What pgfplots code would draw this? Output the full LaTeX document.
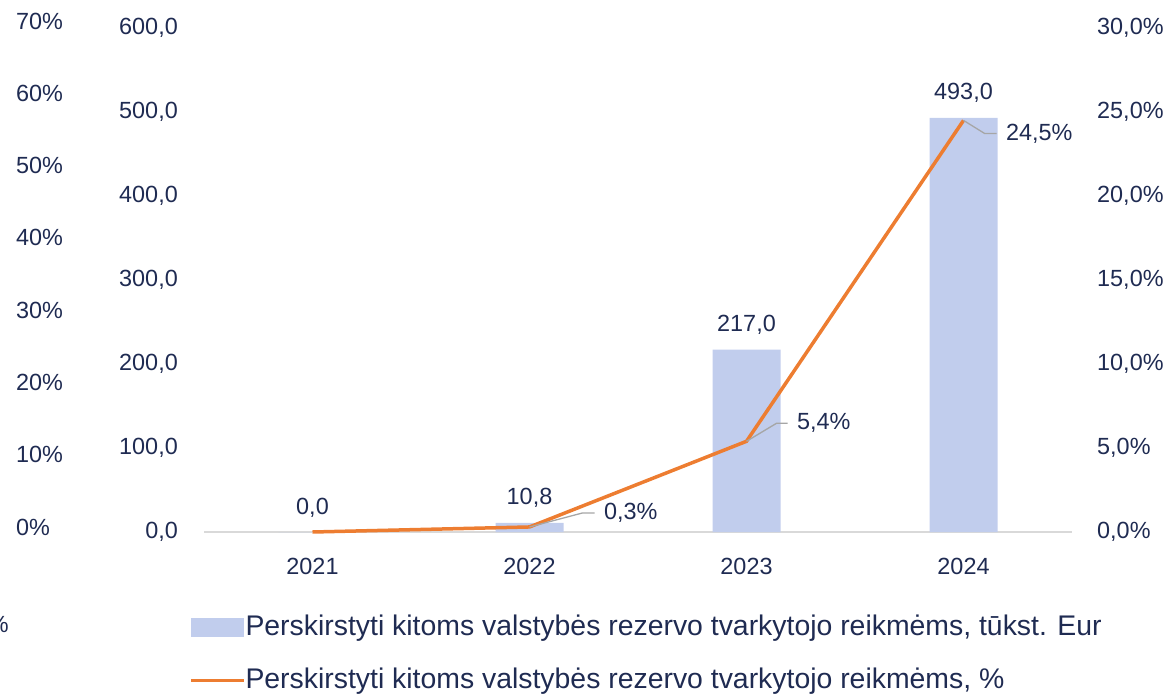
\documentclass[border=0pt]{standalone}
\usepackage{pgfplots}
\pgfplotsset{compat=1.18}
\usepackage{fontspec}
\setmainfont{Liberation Sans}
\definecolor{txt}{HTML}{1F2B52}
\definecolor{barc}{HTML}{C1CDED}
\definecolor{org}{HTML}{ED7D31}
\definecolor{lead}{HTML}{A6A6A6}
\definecolor{axc}{HTML}{D9D9D9}
\newcommand{\tf}{\fontsize{23.5}{28}\selectfont}
\newcommand{\lf}{\fontsize{28.5}{33}\selectfont}
\pgfplotsset{
  base/.style={scale only axis, width=868bp, height=504bp, xmin=-0.5, xmax=3.5,
    /pgf/number format/assume math mode=true,
    ticklabel style={font=\tf, text=txt, inner sep=0pt},
    tick style={draw=none}, clip=false, separate axis lines,
    axis line style={draw=none}},
}
\begin{document}
\begin{tikzpicture}
\useasboundingbox (0,0) rectangle (1168bp,-694bp);
% stray percentage scale on the far left
\begin{axis}[base, at={(204bp,-527bp)}, anchor=south west, height=506bp,
  ymin=0, ymax=70, ytick={0,10,20,30,40,50,60,70},
  yticklabels={0\%,10\%,20\%,30\%,40\%,50\%,60\%,70\%},
  yticklabel style={anchor=west, xshift=-188bp},
  xtick=\empty]
\end{axis}
% bars
\begin{axis}[base, at={(204bp,-532bp)}, anchor=south west,
  ymin=0, ymax=600, ytick={0,100,200,300,400,500,600},
  yticklabels={{0,0},{100,0},{200,0},{300,0},{400,0},{500,0},{600,0}},
  yticklabel style={anchor=east, xshift=-26bp},
  xtick={0,1,2,3}, xticklabels={2021,2022,2023,2024},
  xticklabel style={anchor=north, yshift=-26bp},
  axis x line*=bottom, axis y line*=left,
  x axis line style={draw=axc, line width=1.5bp},
  y axis line style={draw=none}]
\addplot[ybar, bar width=68bp, fill=barc, draw=none,
  nodes near coords={\pgfmathprintnumber[fixed, fixed zerofill, precision=1, use comma]{\pgfplotspointmeta}},
  every node near coord/.append style={font=\tf, text=txt, anchor=base, inner sep=0pt, yshift=18bp}]
  coordinates {(0,0) (1,10.8) (2,217) (3,493)};
\end{axis}
% line
\begin{axis}[base, at={(204bp,-532bp)}, anchor=south west,
  ymin=0, ymax=30, ytick={0,5,10,15,20,25,30},
  yticklabels={{0,0\%},{5,0\%},{10,0\%},{15,0\%},{20,0\%},{25,0\%},{30,0\%}},
  yticklabel pos=right,
  yticklabel style={anchor=west, xshift=25bp},
  xtick=\empty,
  legend style={draw=none, fill=none, inner sep=0pt, outer sep=0pt,
    at={(-15bp,-82bp)}, anchor=north west, font=\lf, text=txt,
    nodes={inner sep=0pt, text depth=6bp, text height=21bp},
    row sep=26bp, /tikz/every even column/.style={column sep=6bp}},
  legend cell align=left]
\addlegendimage{legend image code/.code={\fill[barc] (0bp,-9bp) rectangle (52bp,9bp);}}
\addlegendentry{Perskirstyti kitoms valstybės rezervo tvarkytojo reikmėms, tūkst. Eur}
\addplot[org, line width=3.5bp, mark=none,
  legend image code/.code={\draw[org, line width=3.5bp] (0bp,0bp) -- (53bp,0bp);}]
  coordinates {(0,0) (1,0.3) (2,5.4) (3,24.5)};
\addlegendentry{Perskirstyti kitoms valstybės rezervo tvarkytojo reikmėms, \%}
\draw[lead, line width=1.3bp] (axis cs:1,0.3) -- ++(53bp,14bp) -- ++(12bp,0bp)
  node[anchor=west, inner sep=0pt, xshift=9bp, font=\tf, text=txt]{0,3\%};
\draw[lead, line width=1.3bp] (axis cs:2,5.4) -- ++(30bp,18bp) -- ++(11bp,0bp)
  node[anchor=west, inner sep=0pt, xshift=9bp, font=\tf, text=txt]{5,4\%};
\draw[lead, line width=1.3bp] (axis cs:3,24.5) -- ++(21bp,-13bp) -- ++(12bp,0bp)
  node[anchor=west, inner sep=0pt, xshift=9bp, font=\tf, text=txt]{24,5\%};
\end{axis}
\node[anchor=east, inner sep=0pt, font=\tf, text=txt] at (9bp,-624bp) {\%};
\end{tikzpicture}
\end{document}
